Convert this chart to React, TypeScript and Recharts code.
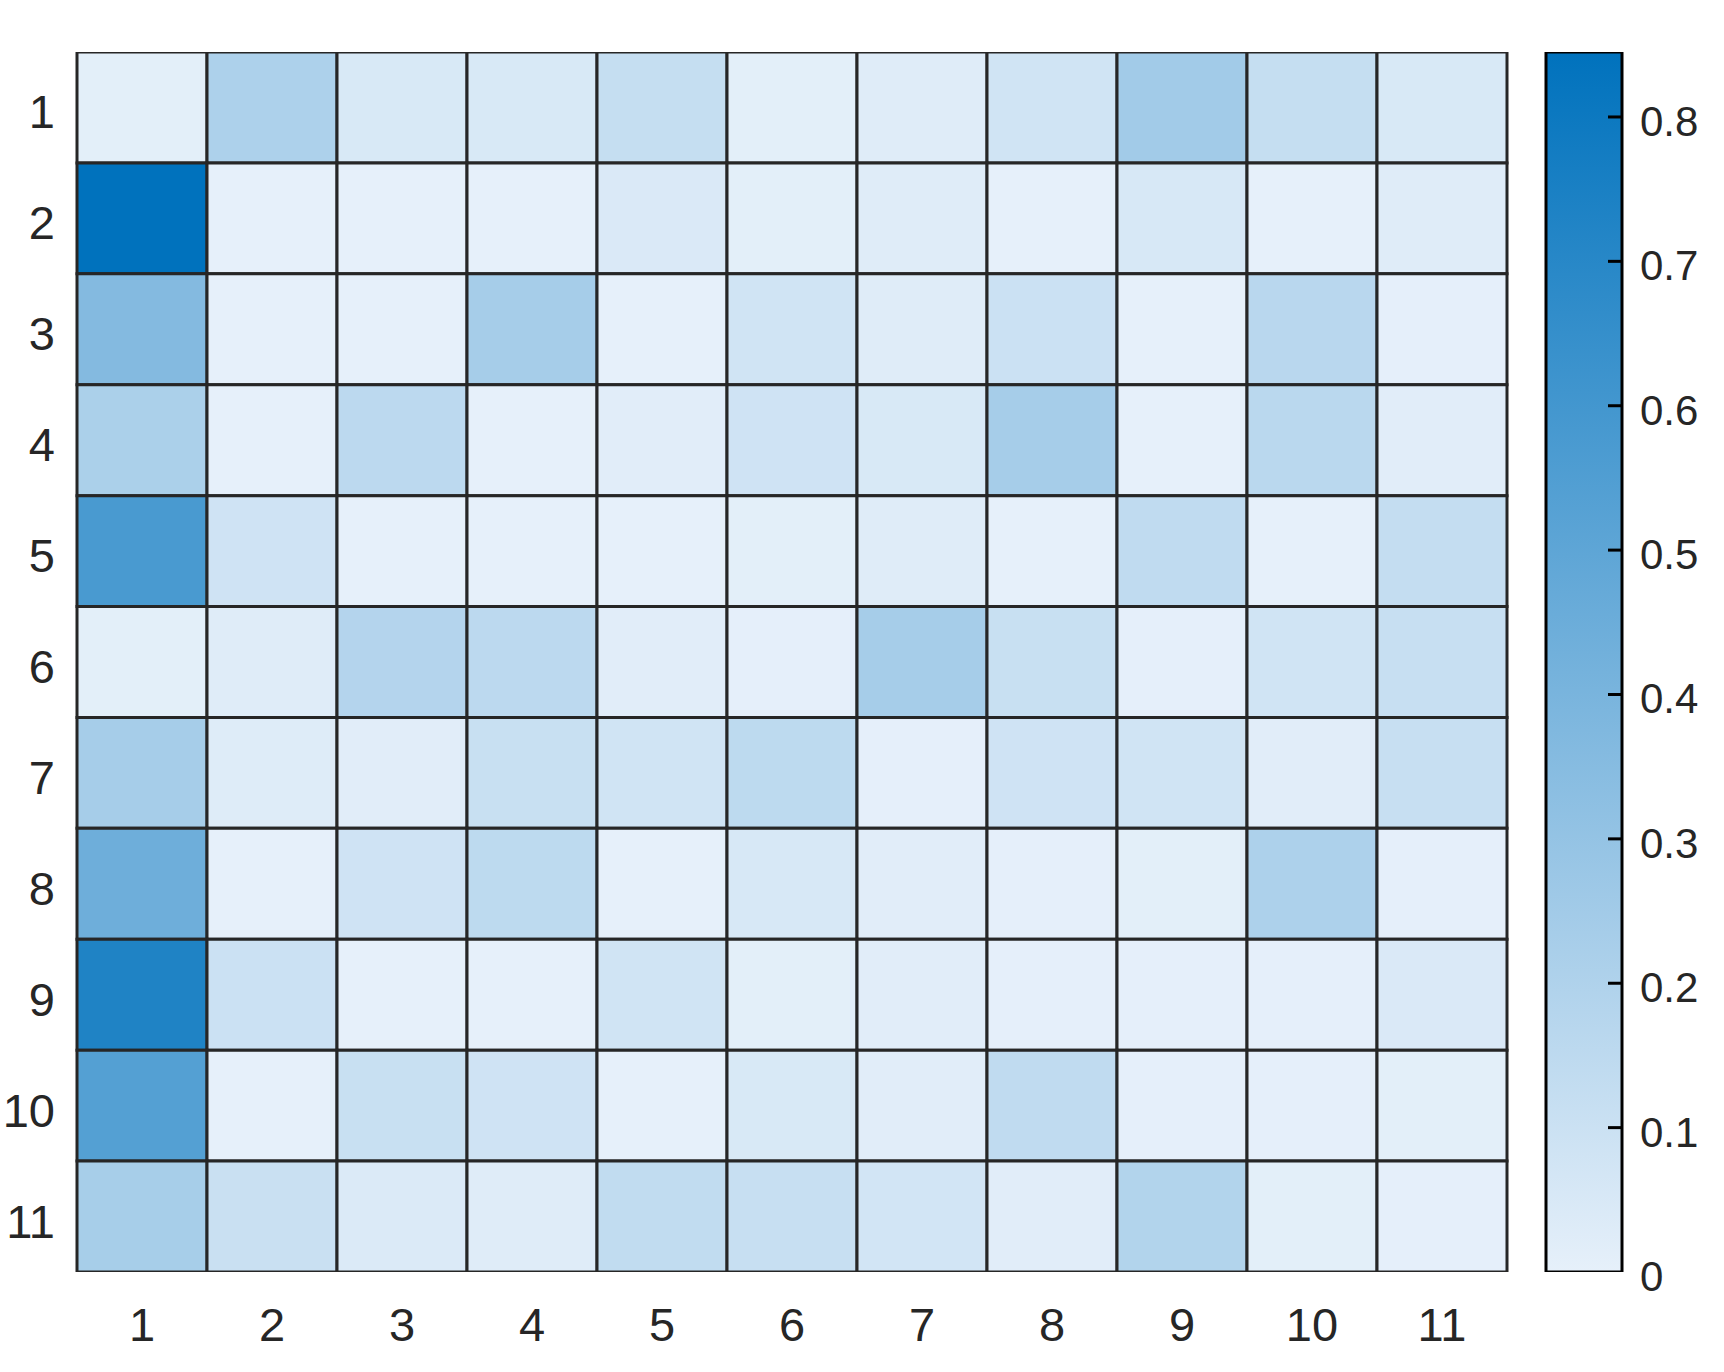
import React from 'react';
import { BarChart, Bar, Cell, XAxis, YAxis } from 'recharts';

// Column / row labels
const colLabels = ['1', '2', '3', '4', '5', '6', '7', '8', '9', '10', '11'];
const rowLabels = ['1', '2', '3', '4', '5', '6', '7', '8', '9', '10', '11'];

// Matrix values, one array per row (top to bottom), columns left to right
const row1 = [0.01, 0.21, 0.05, 0.05, 0.12, 0.01, 0.025, 0.08, 0.25, 0.12, 0.05];
const row2 = [0.845, 0.0, 0.0, 0.0, 0.045, 0.01, 0.025, 0.0, 0.055, 0.0, 0.025];
const row3 = [0.36, 0.0, 0.0, 0.235, 0.0, 0.08, 0.025, 0.1, 0.0, 0.165, 0.005];
const row4 = [0.215, 0.0, 0.155, 0.0, 0.02, 0.085, 0.05, 0.235, 0.0, 0.16, 0.02];
const row5 = [0.575, 0.085, 0.0, 0.0, 0.0, 0.01, 0.025, 0.0, 0.14, 0.0, 0.125];
const row6 = [0.01, 0.025, 0.185, 0.155, 0.02, 0.005, 0.235, 0.11, 0.005, 0.08, 0.115];
const row7 = [0.235, 0.03, 0.02, 0.11, 0.08, 0.15, 0.005, 0.085, 0.08, 0.02, 0.115];
const row8 = [0.44, 0.0, 0.085, 0.15, 0.0, 0.055, 0.02, 0.005, 0.01, 0.21, 0.005];
const row9 = [0.73, 0.1, 0.0, 0.0, 0.08, 0.01, 0.02, 0.005, 0.005, 0.005, 0.045];
const row10 = [0.535, 0.0, 0.11, 0.085, 0.0, 0.05, 0.02, 0.14, 0.005, 0.005, 0.01];
const row11 = [0.23, 0.105, 0.04, 0.025, 0.135, 0.115, 0.075, 0.02, 0.19, 0.01, 0.005];

const rows = [row1, row2, row3, row4, row5, row6, row7, row8, row9, row10, row11];

// Colour scale limits and colorbar ticks
const cMin = 0;
const cMax = 0.845;
const cbTicks = [0, 0.1, 0.2, 0.3, 0.4, 0.5, 0.6, 0.7, 0.8];

const lowRGB = [230, 240, 250];
const highRGB = [0, 114, 189];

function colorFor(v: number): string {
  let t = (v - cMin) / (cMax - cMin);
  t = Math.max(0, Math.min(1, t));
  const c = lowRGB.map((l, k) => Math.round(l + (highRGB[k] - l) * t));
  return `rgb(${c[0]},${c[1]},${c[2]})`;
}

// Table for the stacked-bar heatmap: one entry per column, one unit per row cell
const heatData = colLabels.map((c) => {
  const o: Record<string, any> = { col: c };
  rows.forEach((_, i) => {
    o[`r${i + 1}`] = 1;
  });
  return o;
});
const rowTicks = rowLabels.map((_, i) => i + 0.5);

const colorbarData = [{ name: 'cb', v: cMax }];

const FONT = '"Liberation Sans", Arial, Helvetica, sans-serif';
const TXT = '#262626';
const GRID = '#262626';

const YTick = (props: any) => {
  const { x, y, index } = props;
  return (
    <text x={x} y={y + 21} textAnchor="end" fontSize={47} fontFamily={FONT} fill={TXT}>
      {rowLabels[index]}
    </text>
  );
};

const XTick = (props: any) => {
  const { x, y, payload } = props;
  return (
    <text x={x} y={y + 69} textAnchor="middle" fontSize={47} fontFamily={FONT} fill={TXT}>
      {payload.value}
    </text>
  );
};

const CB_MARGIN = 18;
const CbTick = (props: any) => {
  const { x, y, payload } = props;
  const v = payload.value as number;
  const label = v === 0 ? '0' : v.toFixed(1);
  const edge = x - CB_MARGIN;
  return (
    <g>
      {v !== cMin && (
        <line x1={edge - 14} x2={edge - 1} y1={y} y2={y} stroke="#000" strokeWidth={3} />
      )}
      <text x={x} y={y + 19} textAnchor="start" fontSize={42} fontFamily={FONT} fill={TXT}>
        {label}
      </text>
    </g>
  );
};

export default function App() {
  return (
    <div style={{ position: 'absolute', left: 0, top: 0, width: 1724, height: 1372, background: '#fff' }}>
      <div style={{ position: 'absolute', left: 0, top: 0 }}>
        <BarChart
          width={1540}
          height={1372}
          data={heatData}
          margin={{ top: 52, right: 33, bottom: 0, left: 0 }}
          barCategoryGap={0}
          barGap={0}
        >
          <XAxis
            dataKey="col"
            type="category"
            height={100}
            axisLine={false}
            tickLine={false}
            tickSize={0}
            tickMargin={0}
            interval={0}
            tick={<XTick />}
          />
          <YAxis
            type="number"
            domain={[0, rows.length]}
            reversed
            width={77}
            ticks={rowTicks}
            interval={0}
            axisLine={false}
            tickLine={false}
            tickSize={0}
            tickMargin={22}
            tick={<YTick />}
            allowDataOverflow
          />
          {rows.map((row, i) => (
            <Bar
              key={`r${i + 1}`}
              dataKey={`r${i + 1}`}
              stackId="heat"
              stroke={GRID}
              strokeWidth={3}
              isAnimationActive={false}
            >
              {row.map((v, j) => (
                <Cell key={`c${i}-${j}`} fill={colorFor(v)} />
              ))}
            </Bar>
          ))}
        </BarChart>
      </div>
      <div style={{ position: 'absolute', left: 1500, top: 0 }}>
        <BarChart
          width={224}
          height={1372}
          data={colorbarData}
          margin={{ top: 52, right: 0, bottom: 100, left: 46 }}
          barCategoryGap={0}
          barGap={0}
        >
          <defs>
            <linearGradient id="cbGrad" x1="0" y1="0" x2="0" y2="1">
              <stop offset="0%" stopColor={colorFor(cMax)} />
              <stop offset="100%" stopColor={colorFor(cMin)} />
            </linearGradient>
          </defs>
          <XAxis dataKey="name" type="category" hide />
          <YAxis
            orientation="right"
            type="number"
            domain={[cMin, cMax]}
            ticks={cbTicks}
            interval={0}
            width={102}
            axisLine={false}
            tickLine={false}
            tickSize={0}
            tickMargin={CB_MARGIN}
            tick={<CbTick />}
            allowDataOverflow
          />
          <Bar dataKey="v" fill="url(#cbGrad)" stroke="#000" strokeWidth={3} isAnimationActive={false} />
        </BarChart>
      </div>
    </div>
  );
}
